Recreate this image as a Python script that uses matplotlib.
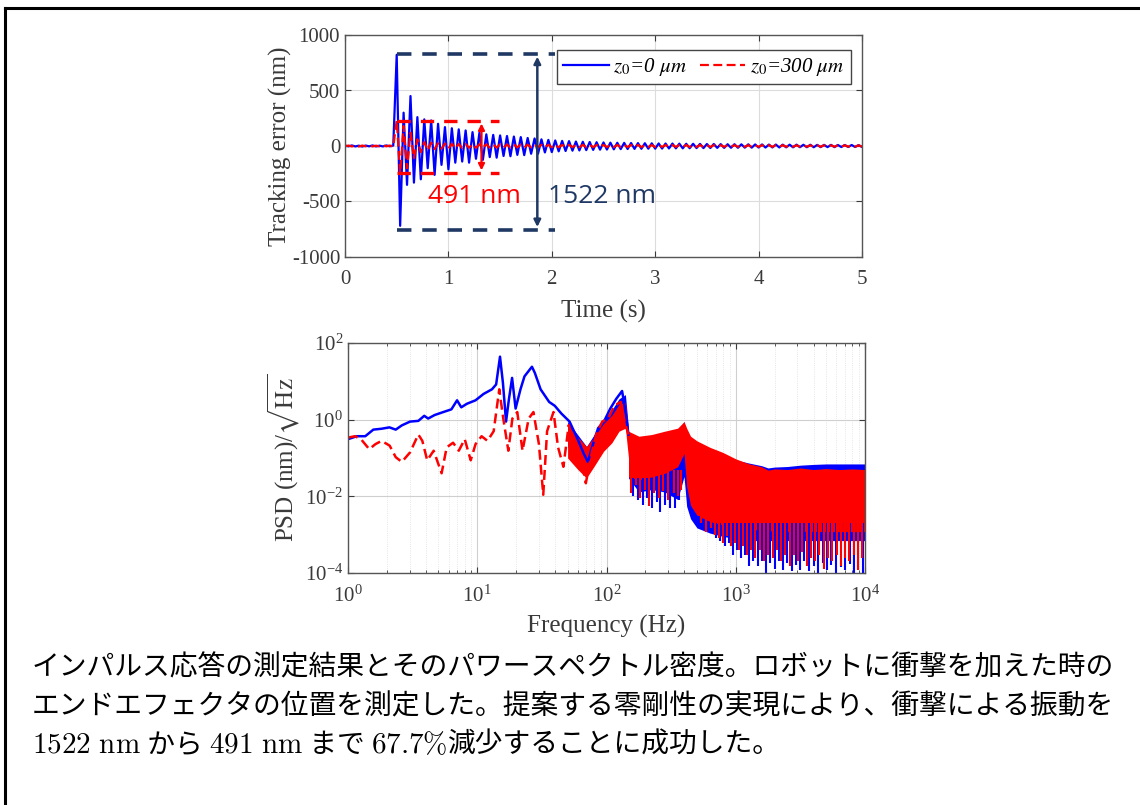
import numpy as np
import matplotlib
matplotlib.use("Agg")
import matplotlib.pyplot as plt
from matplotlib.lines import Line2D

# ---- time response (sampled every 1/30 s from t = 0) ----
t_step = 1 / 30
blue_te = [4, -3, 5, -4, 3, -5, 4, -3, 5, -4, 3, -4, 5, -3, 4,
           822, -719, 300, -350, 450, -330, 260, -300, 240, -200, 230, -260, 200, -170, 170,
           -210, 160, -150, 150, -140, 140, -150, 125, -115, 120, -125, 105, -100, 100, -105,
           95, -90, 90, -92, 85, -80, 80, -82, 72, -70, 68, -70, 60, -58, 55, -55,
           50, -48, 46, -45, 44, -42, 40, -40, 38, -37, 36, -35, 34, -33, 32, -32, 30, -30, 29, -28,
           28, -27, 27, -26, 26, -25, 25, -24, 24, -24,
           23, -23, 22, -22, 22, -21, 21, -21, 20, -20, 20, -19, 19, -19, 18, -18, 18, -17, 17, -17,
           16, -16, 16, -16, 15, -15, 15, -15, 14, -14,
           14, -14, 13, -13, 13, -13, 12, -12, 12, -12, 12, -11, 11, -11, 11, -11, 10, -10, 10, -10,
           10, -10, 9, -9, 9, -9, 9, -9, 8, -8]
red_te = [-3, 4, -4, 3, -5, 4, -3, 5, -4, 3, -4, 5, -3, 4, -5,
          230, -245, 180, -200, 120, -110, 60, -55, 35, -40,
          30, -28, 25, -24, 22, -22, 20, -20, 18, -18, 17, -16, 16, -16, 15, -15, 15, -14, 14, -14,
          14, -13, 13, -13, 13, -12, 12, -12, 12, -12, 12, -11, 11, -11, 11, -11, 11, -11, 10, -10,
          10, -10, 10, -10, 10, -10, 10, -10, 9, -9, 9, -9, 9, -9, 9, -9, 9, -9, 9, -9,
          9, -9, 8, -8, 8, -8, 8, -8, 8, -8, 8, -8, 8, -8, 8, -8, 8, -8, 8, -8,
          8, -8, 7, -7, 7, -7, 7, -7, 7, -7, 7, -7, 7, -7, 7, -7, 7, -7, 7, -7,
          7, -7, 7, -7, 6, -6, 6, -6, 6, -6, 6, -6, 6, -6, 6, -6, 6, -6, 6, -6,
          6, -6, 6, -6, 6, -6]

# ---- PSD, low-frequency part ----
blue_f = [1.0, 1.17, 1.36, 1.57, 1.82, 2.09, 2.34, 2.61, 3.02, 3.5, 3.89, 4.17, 4.68, 5.37, 6.31,
          6.98, 7.52, 8.32, 9.7, 11.2, 13.0, 14.0, 15.0, 15.8, 16.7, 17.6, 18.6, 19.8, 21.6, 23.2,
          25.4, 26.5, 27.9, 30.9, 36.0, 39.8, 44.7, 51.8, 59.8, 66.7, 71.8, 77.3, 86.1, 95.5, 107,
          119, 132, 138, 148]
blue_p = [0.31, 0.37, 0.37, 0.55, 0.58, 0.63, 0.55, 0.71, 0.89, 0.93, 1.26, 1.07, 1.32, 1.55, 1.86,
          3.2, 2.1, 2.6, 3.2, 4.7, 6.2, 8.3, 44, 9.1, 0.89, 3.5, 12.3, 1.95, 6.2, 13.5,
          20, 24, 16.6, 6.2, 2.9, 2.3, 1.45, 0.89, 0.31, 0.13, 0.079, 0.19, 0.6, 0.89, 1.95,
          3.5, 5.6, 2.3, 0.41]
red_f = [1.0, 1.13, 1.26, 1.46, 1.63, 1.82, 2.1, 2.34, 2.61, 3.02, 3.5, 3.76, 4.1, 4.6, 5.3,
         5.8, 6.5, 7.2, 8.0, 8.9, 9.7, 10.8, 12.0, 13.4, 14.8, 15.9, 17.4, 18.7, 20.4, 22.4,
         25.0, 27.2, 30.0, 32.4, 34.7, 38.9, 42.2, 46.4, 51.0, 55.6, 61.8, 69.2, 75.5, 83.2, 92.7,
         103, 115, 129, 138, 148]
red_p = [0.34, 0.37, 0.31, 0.17, 0.23, 0.28, 0.21, 0.105, 0.079, 0.14, 0.41, 0.28, 0.087, 0.155, 0.04,
         0.19, 0.25, 0.155, 0.31, 0.087, 0.23, 0.37, 0.28, 0.5, 6.2, 1.07, 0.155, 1.07, 1.58, 0.155,
         1.07, 1.58, 0.23, 0.011, 0.5, 1.58, 0.19, 0.059, 0.72, 0.28, 0.155, 0.022, 0.105, 0.41, 0.89,
         1.07, 2.3, 2.9, 0.89, 0.41]

# dense band 50-150 Hz
mid_f = [50, 60, 70, 80, 95, 110, 125, 140, 148]
mid_blue_hi = [0.9, 0.4, 0.2, 0.4, 1.0, 1.8, 3.5, 4.5, 0.6]
mid_blue_lo = [0.2, 0.08, 0.05, 0.08, 0.2, 0.4, 0.8, 1.0, 0.2]
mid_red_hi = [0.7, 0.35, 0.2, 0.35, 0.8, 1.3, 2.5, 2.8, 0.5]
mid_red_lo = [0.1, 0.05, 0.03, 0.06, 0.15, 0.25, 0.5, 0.6, 0.1]

# dense band 150 Hz - 10 kHz
band_f = [148, 178, 224, 282, 355, 398, 417, 447, 501, 631, 794, 1000, 1259, 1585, 1778, 1995,
          2512, 3162, 3981, 5012, 6310, 7943, 10000]
red_hi = [0.5, 0.37, 0.41, 0.5, 0.6, 0.89, 0.6, 0.37, 0.28, 0.19, 0.14, 0.095, 0.071, 0.059, 0.048,
          0.052, 0.05, 0.055, 0.05, 0.053, 0.05, 0.052, 0.05]
red_lo = [0.032, 0.027, 0.032, 0.04, 0.059, 0.13, 0.018, 0.0058, 0.0032, 0.0022, 0.0018, 0.0015,
          0.0014, 0.0013, 0.0013, 0.0012, 0.0012, 0.0012, 0.0012, 0.0012, 0.0012, 0.0012, 0.0012]
blue_hi = [0.41, 0.34, 0.37, 0.37, 0.47, 0.89, 0.4, 0.28, 0.2, 0.14, 0.11, 0.089, 0.074, 0.063, 0.055,
           0.058, 0.06, 0.065, 0.068, 0.07, 0.07, 0.07, 0.07]
blue_lo = [0.03, 0.013, 0.015, 0.013, 0.0083, 0.033, 0.0055, 0.0026, 0.0015, 0.0011, 0.0009, 0.0008,
           0.0007, 0.0007, 0.0007, 0.0007, 0.0007, 0.0007, 0.0007, 0.0007, 0.0007, 0.0007, 0.0007]

# downward spikes in the noisy part (150-400 Hz and above 500 Hz)
blue_spk_f1 = [160, 175, 190, 205, 225, 245, 260, 285, 310, 340, 365]
blue_spk_lo1 = [0.01, 0.008, 0.006, 0.009, 0.005, 0.007, 0.004, 0.006, 0.005, 0.005, 0.008]
blue_spk_f2 = [520, 560, 600, 650, 700, 760, 820, 880, 950, 1020, 1100, 1180, 1270, 1370, 1480,
               1600, 1720, 1850, 2000, 2150, 2320, 2500, 2700, 2900, 3150, 3400, 3700, 4000, 4350,
               4700, 5100, 5500, 6000, 6500, 7000, 7600, 8200, 8900, 9600]
blue_spk_lo2 = [0.003, 0.002, 0.0015, 0.0012, 0.0008, 0.0007, 0.0005, 0.0006, 0.0003, 0.0004,
                0.00025, 0.0003, 0.00015, 0.0002, 0.00015, 0.0002, 0.0001, 0.00018, 0.00013, 0.0002,
                0.00012, 0.00018, 0.00011, 0.00016, 0.00012, 0.0002, 0.00011, 0.00015, 0.0001,
                0.00018, 0.00012, 0.00016, 0.0001, 0.00014, 0.00012, 0.00017, 0.0001, 0.00013, 0.0001]
red_spk_f1 = [155, 168, 183, 198, 215, 235, 255, 275, 300, 330, 355, 380]
red_spk_lo1 = [0.012, 0.02, 0.009, 0.015, 0.0055, 0.012, 0.009, 0.014, 0.008, 0.012, 0.01, 0.015]
red_spk_f2 = [540, 590, 640, 690, 740, 800, 860, 920, 990, 1060, 1140, 1230, 1320, 1420, 1540,
              1660, 1790, 1930, 2080, 2240, 2420, 2610, 2810, 3030, 3270, 3530, 3810, 4110, 4440,
              4790, 5170, 5580, 6020, 6500, 7010, 7570, 8170, 8820, 9500]
red_spk_lo2 = [0.002, 0.0012, 0.0015, 0.001, 0.0008, 0.0006, 0.0009, 0.0005, 0.0006, 0.0004,
               0.0005, 0.0003, 0.0004, 0.00025, 0.0004, 0.0002, 0.0003, 0.00025, 0.0004, 0.0002,
               0.0003, 0.00015, 0.0003, 0.0002, 0.00035, 0.00015, 0.00025, 0.0002, 0.0003, 0.00013,
               0.00025, 0.0002, 0.0003, 0.00015, 0.00025, 0.0002, 0.0003, 0.00012, 0.00025]

caption_1 = "インパルス応答の測定結果とそのパワースペクトル密度。ロボットに衝撃を加えた時の"
caption_2 = "エンドエフェクタの位置を測定した。提案する零剛性の実現により、衝撃による振動を"
caption_3 = [(r"$\mathrm{1522\ nm}$", True), (" から ", False), (r"$\mathrm{491\ nm}$", True),
             (" まで ", False), (r"$\mathrm{67.7\%}$", True), ("減少することに成功した。", False)]

plt.rcParams['font.family'] = ['Liberation Serif', 'DejaVu Serif']
plt.rcParams['mathtext.fontset'] = 'stix'
plt.rcParams['axes.unicode_minus'] = False
plt.rcParams['axes.linewidth'] = 1.0

W, H = 1140, 805
fig = plt.figure(figsize=(W / 100, H / 100), dpi=100)
fig.patch.set_facecolor('white')


def fig_rect(x0, y0, x1, y1):
    return [x0 / W, 1 - y1 / H, (x1 - x0) / W, (y1 - y0) / H]


tick_col = '#3a3a3a'
blue = '#0000ff'
red = '#ff0000'

# ---------------- top: time response ----------------
ax1 = fig.add_axes(fig_rect(345, 35, 862, 257))
t = np.arange(len(blue_te)) * t_step
ax1.plot(t, blue_te, color=blue, lw=1.6, label=r'$z_0$=0 $\mu m$')
ax1.plot(t, red_te, color=red, lw=1.6, ls=(0, (4, 2)), label=r'$z_0$=300 $\mu m$')
ax1.set_xlim(0, 5)
ax1.set_ylim(-1000, 1000)
ax1.set_xticks([0, 1, 2, 3, 4, 5])
ax1.set_yticks([-1000, -500, 0, 500, 1000])
ax1.grid(True, color='#dcdcdc', lw=0.8)
ax1.set_axisbelow(True)
ax1.tick_params(direction='in', top=True, right=True, labelsize=15, colors=tick_col, length=4)
ax1.tick_params(axis='x', pad=9)
ax1.set_xlabel('Time (s)', fontsize=18, color=tick_col, labelpad=8)
ax1.set_ylabel('Tracking error (nm)', fontsize=18, color=tick_col, labelpad=0)
for s in ax1.spines.values():
    s.set_color('#555555')

leg = ax1.legend(loc='upper right', ncol=2, handlelength=2.2, handletextpad=0.2,
                 columnspacing=0.6, borderpad=0.3, fancybox=False, edgecolor='#444444',
                 framealpha=1, prop={'style': 'italic', 'size': 15, 'family': 'Liberation Serif'},
                 bbox_to_anchor=(0.998, 0.98))
leg.get_frame().set_linewidth(1.0)

navy = '#1f3864'
ax1.plot([0.5, 2.03], [830, 830], color=navy, lw=2.6, ls=(0, (4, 3)))
ax1.plot([0.5, 2.03], [-755, -755], color=navy, lw=2.6, ls=(0, (4, 3)))
ax1.annotate('', xy=(1.86, 830), xytext=(1.86, -755),
             arrowprops=dict(arrowstyle='<|-|>', color=navy, lw=1.8, mutation_scale=10))
ax1.text(1.96, -452, '1522 nm', color=navy, fontsize=19, family='Open Sans', va='center', ha='left')

ax1.plot([0.5, 1.49], [228, 228], color=red, lw=2.4, ls=(0, (4, 3)))
ax1.plot([0.5, 1.49], [-245, -245], color=red, lw=2.4, ls=(0, (4, 3)))
ax1.annotate('', xy=(1.32, 228), xytext=(1.32, -245),
             arrowprops=dict(arrowstyle='<|-|>', color=red, lw=1.6, mutation_scale=9))
ax1.text(0.8, -452, '491 nm', color=red, fontsize=19, family='Open Sans', va='center', ha='left')

# ---------------- bottom: PSD ----------------
ax2 = fig.add_axes(fig_rect(348, 343, 865, 573))
ax2.fill_between(mid_f, mid_blue_lo, mid_blue_hi, color=blue, lw=0)
ax2.fill_between(band_f, blue_lo, blue_hi, color=blue, lw=0)
ax2.vlines(blue_spk_f1, blue_spk_lo1, [0.03] * len(blue_spk_f1), color=blue, lw=1.5)
ax2.vlines(blue_spk_f2, blue_spk_lo2, [0.002] * len(blue_spk_f2), color=blue, lw=1.5)
ax2.plot(blue_f, blue_p, color=blue, lw=1.8)
ax2.fill_between(mid_f, mid_red_lo, mid_red_hi, color=red, lw=0)
ax2.fill_between(band_f, red_lo, red_hi, color=red, lw=0)
ax2.vlines(red_spk_f1, red_spk_lo1, [0.05] * len(red_spk_f1), color=red, lw=1.5)
ax2.vlines(red_spk_f2, red_spk_lo2, [0.003] * len(red_spk_f2), color=red, lw=1.5)
ax2.plot(red_f, red_p, color=red, lw=1.8, ls=(0, (4, 2)))
ax2.set_xscale('log')
ax2.set_yscale('log')
ax2.set_xlim(1, 1e4)
ax2.set_ylim(1e-4, 1e2)
ax2.set_yticks([1e-4, 1e-2, 1e0, 1e2])
ax2.grid(True, which='major', color='#cfcfcf', lw=0.8)
ax2.grid(True, which='minor', color='#dedede', lw=0.6, ls=':')
ax2.set_axisbelow(True)
ax2.tick_params(which='both', direction='in', top=True, right=True, colors=tick_col)
ax2.tick_params(which='major', labelsize=15, length=4)
ax2.tick_params(which='minor', length=2)
ax2.tick_params(axis='x', which='major', pad=9)
ax2.set_xlabel('Frequency (Hz)', fontsize=18, color=tick_col, labelpad=6)
ax2.set_ylabel(r'PSD (nm)/$\sqrt{\mathrm{Hz}}$', fontsize=18, color=tick_col, labelpad=2)
for s in ax2.spines.values():
    s.set_color('#555555')

# ---------------- caption ----------------
jp = ['Noto Sans CJK JP', 'DejaVu Sans']
fig.text(32 / W, 1 - 667 / H, caption_1, fontsize=20, family=jp, va='center', ha='left')
fig.text(32 / W, 1 - 706 / H, caption_2, fontsize=20, family=jp, va='center', ha='left')

renderer = fig.canvas.get_renderer()
x = 32
for piece, is_math in caption_3:
    if is_math:
        txt = fig.text(x / W, 1 - 745 / H, piece, fontsize=21, math_fontfamily='cm',
                       va='center', ha='left')
    else:
        txt = fig.text(x / W, 1 - 745 / H, piece, fontsize=20, family=jp, va='center', ha='left')
    bb = txt.get_window_extent(renderer=renderer)
    x = bb.x1

# outer frame (top and left edges)
fig.add_artist(Line2D([5 / W, 1], [1 - 8 / H, 1 - 8 / H], color='black', lw=2.2))
fig.add_artist(Line2D([5 / W, 5 / W], [0, 1 - 8 / H], color='black', lw=2.2))

fig.savefig('out.png', dpi=100)
